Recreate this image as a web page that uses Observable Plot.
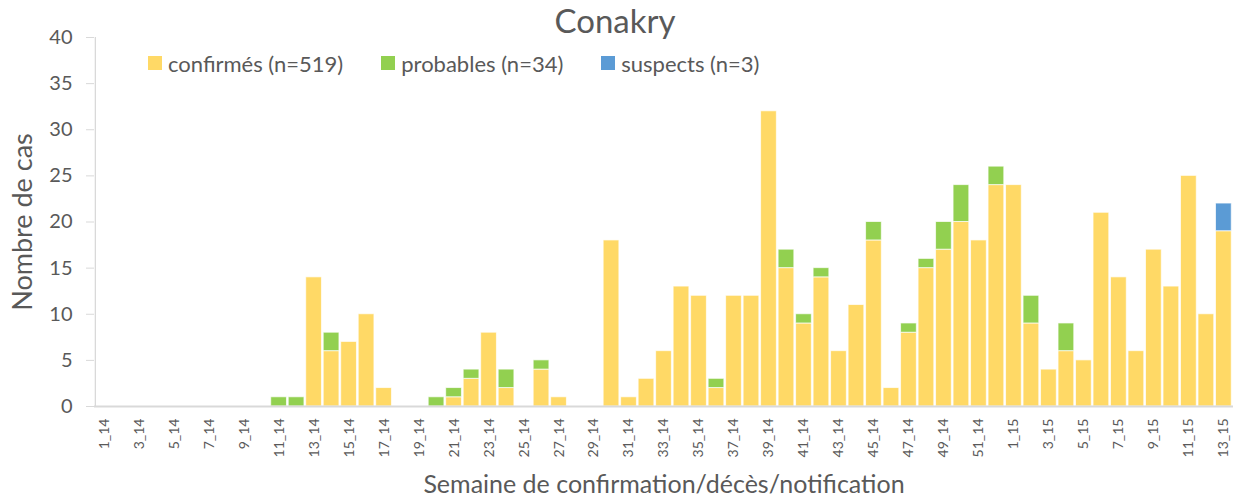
<!DOCTYPE html>
<html>
<head>
<meta charset="utf-8">
<script src="https://cdn.jsdelivr.net/npm/d3@7"></script>
<script src="https://cdn.jsdelivr.net/npm/@observablehq/plot@0.6"></script>
<style>
  html, body { margin: 0; padding: 0; background: #fff; }
  #wrap { position: relative; width: 1233px; height: 497px; font-family: Lato, "Open Sans", sans-serif; color: #595959; }
  #title { position: absolute; left: 515px; width: 200px; top: 0; height: 40px; line-height: 40px; text-align: center; font-size: 33px; }
  #legend { position: absolute; left: 148px; top: 56px; font-size: 22px; display: flex; }
  .item { display: flex; align-items: center; height: 14px; margin-right: 38px; white-space: nowrap; }
  .sw { width: 14px; height: 14px; margin-right: 6px; flex: none; }
  #chart { position: absolute; left: 0; top: 0; }
</style>
</head>
<body>
<div id="wrap">
  <div id="chart"></div>
  <div id="title"></div>
  <div id="legend"></div>
</div>
<script>
// Weeks
const weeks = [
  "1_14","2_14","3_14","4_14","5_14","6_14","7_14","8_14","9_14","10_14",
  "11_14","12_14","13_14","14_14","15_14","16_14","17_14","18_14","19_14","20_14",
  "21_14","22_14","23_14","24_14","25_14","26_14","27_14","28_14","29_14","30_14",
  "31_14","32_14","33_14","34_14","35_14","36_14","37_14","38_14","39_14","40_14",
  "41_14","42_14","43_14","44_14","45_14","46_14","47_14","48_14","49_14","50_14",
  "51_14","52_14","1_15","2_15","3_15","4_15","5_15","6_15","7_15","8_15",
  "9_15","10_15","11_15","12_15","13_15"
];
const confirmes = [
  0,0,0,0,0,0,0,0,0,0,
  0,0,14,6,7,10,2,0,0,0,
  1,3,8,2,0,4,1,0,0,18,
  1,3,6,13,12,2,12,12,32,15,
  9,14,6,11,18,2,8,15,17,20,
  18,24,24,9,4,6,5,21,14,6,
  17,13,25,10,19
];
const probables = [
  0,0,0,0,0,0,0,0,0,0,
  1,1,0,2,0,0,0,0,0,1,
  1,1,0,2,0,1,0,0,0,0,
  0,0,0,0,0,1,0,0,0,2,
  1,1,0,0,2,0,1,1,3,4,
  0,2,0,3,0,3,0,0,0,0,
  0,0,0,0,0
];
const suspects = [
  0,0,0,0,0,0,0,0,0,0,
  0,0,0,0,0,0,0,0,0,0,
  0,0,0,0,0,0,0,0,0,0,
  0,0,0,0,0,0,0,0,0,0,
  0,0,0,0,0,0,0,0,0,0,
  0,0,0,0,0,0,0,0,0,0,
  0,0,0,0,3
];
const types = ["confirmés (n=519)", "probables (n=34)", "suspects (n=3)"];
const colors = ["#FFD966", "#92D050", "#5B9BD5"];
const yTicks = [0,5,10,15,20,25,30,35,40];
const xTickLabels = weeks.filter((w, i) => i % 2 === 0);
const title = "Conakry";
const xTitle = "Semaine de confirmation/décès/notification";
const yTitle = "Nombre de cas";

const series = [confirmes, probables, suspects];
const table = [];
weeks.forEach((w, i) => {
  types.forEach((t, k) => table.push({week: w, type: t, value: series[k][i]}));
});

const W = 1233, H = 497, ML = 94, MR = 0, MT = 37, MB = 91;
const step = (W - ML - MR) / weeks.length;
const grey = "#595959";
const font = "Lato, 'Open Sans', sans-serif";

const plot = Plot.plot({
  width: W, height: H,
  marginLeft: ML, marginRight: MR, marginTop: MT, marginBottom: MB,
  style: {fontFamily: font, color: grey, background: "white"},
  x: {type: "band", domain: weeks, padding: 0.1, label: null},
  y: {domain: [0, 40], label: null},
  color: {domain: types, range: colors},
  marks: [
    Plot.barY(table, {x: "week", y: "value", fill: "type", order: types, stroke: "white", strokeWidth: 1, strokeOpacity: 0.7}),
    Plot.ruleY([0], {stroke: "#d9d9d9", strokeWidth: 1.8}),
    Plot.ruleX([weeks[0]], {y1: 0, y2: 40, dx: -step / 2, stroke: "#d9d9d9", strokeWidth: 1.3}),
    Plot.axisY({ticks: yTicks, tickSize: 8, tickPadding: 14, fontSize: 20, stroke: "#d9d9d9", fill: grey, label: null}),
    Plot.axisX({ticks: xTickLabels, tickSize: 0, tickPadding: 12, tickRotate: -90, textAnchor: "end", lineAnchor: "middle", fontSize: 14, fill: grey, label: null}),
    Plot.text([xTitle], {frameAnchor: "bottom", dy: 78, lineAnchor: "middle", fontSize: 25, fill: grey}),
    Plot.text([yTitle], {frameAnchor: "left", dx: -71, rotate: -90, textAnchor: "middle", lineAnchor: "middle", fontSize: 27, fill: grey})
  ]
});
document.getElementById("chart").appendChild(plot);
document.getElementById("title").textContent = title;

const legend = document.getElementById("legend");
types.forEach((t, k) => {
  const it = document.createElement("div");
  it.className = "item";
  it.innerHTML = `<span class="sw" style="background:${colors[k]}"></span><span>${t}</span>`;
  legend.appendChild(it);
});
</script>
</body>
</html>
